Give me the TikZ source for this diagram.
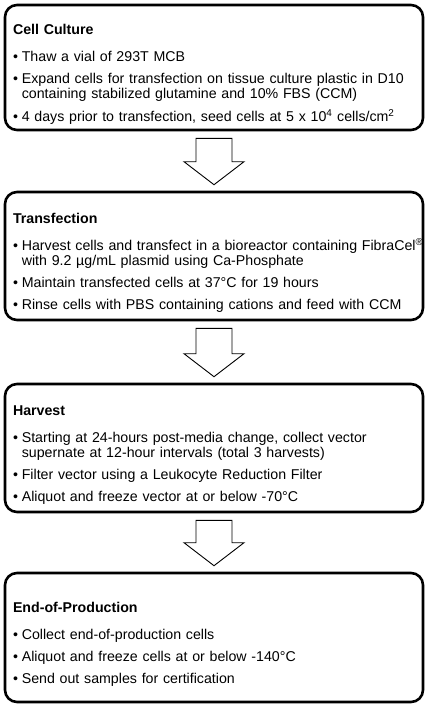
\documentclass[tikz,border=0pt]{standalone}
\usepackage{fontspec}
\setmainfont{Liberation Sans}
\usetikzlibrary{positioning,calc}

\newcommand{\stagetitle}[1]{\leftskip=6pt\rule{0pt}{24pt}\textbf{#1}\par\vspace{5.5pt}}
\newcommand{\bitem}{\par\vspace{7pt}\hangindent=8.8pt\hangafter=1\makebox[8.8pt][l]{•}}

\begin{document}
\begin{tikzpicture}[x=1pt,y=1pt,
		stage/.style={draw, line width=2.6pt, rounded corners=12pt, minimum width=418pt, minimum height=128pt,
			text width=414pt, inner xsep=2pt, inner ysep=0pt, align=left, font=\fontsize{14.2}{15}\selectfont},
		blockarrow/.style={draw, fill=white, line width=0.9pt, line join=miter}
		]
		\useasboundingbox (0,0) rectangle (428,-705);
		
		% -------------------------------------------------
		% Stages
		% -------------------------------------------------
		\node[stage, minimum height=125pt] (cult) at (214,-67.5) {%
			\stagetitle{Cell Culture}
			\bitem Thaw a vial of 293T MCB
			\bitem Expand cells for transfection on tissue culture plastic in D10\newline containing stabilized glutamine and 10\% FBS (CCM)
			\bitem 4 days prior to transfection, seed cells at 5 x 10\textsuperscript{4} cells/cm\textsuperscript{2}\par
		};
		
		\node[stage] (trans) at (214,-256) {%
			\stagetitle{Transfection}
			\bitem \mbox{Harvest cells and transfect in a bioreactor containing FibraCel\textsuperscript{®}}\newline with 9.2 µg/mL plasmid using Ca-Phosphate
			\bitem Maintain transfected cells at 37°C for 19 hours
			\bitem Rinse cells with PBS containing cations and feed with CCM\par
		};
		
		\node[stage] (harv) at (214,-448) {%
			\stagetitle{Harvest}
			\bitem Starting at 24-hours post-media change, collect vector\newline supernate at 12-hour intervals (total 3 harvests)
			\bitem Filter vector using a Leukocyte Reduction Filter
			\bitem Aliquot and freeze vector at or below -70°C\par
		};
		
		\node[stage, minimum height=129pt] (eop) at (214,-637.5) {%
			\stagetitle{End-of-Production}
			\bitem Collect end-of-production cells
			\bitem Aliquot and freeze cells at or below -140°C
			\bitem Send out samples for certification\par
		};
		
		% -------------------------------------------------
		% Block arrows
		% -------------------------------------------------
		\foreach \a/\b in {cult/trans,trans/harv,harv/eop}
		\draw[blockarrow] ($(\a.south)+(-18,-7)$) -- ($(\a.south)+(18,-7)$) -- ($(\b.north)+(18,29)$)
			-- ($(\b.north)+(30,29)$) -- ($(\b.north)+(0,6)$) -- ($(\b.north)+(-30,29)$)
			-- ($(\b.north)+(-18,29)$) -- cycle;
		
	\end{tikzpicture}
\end{document}
